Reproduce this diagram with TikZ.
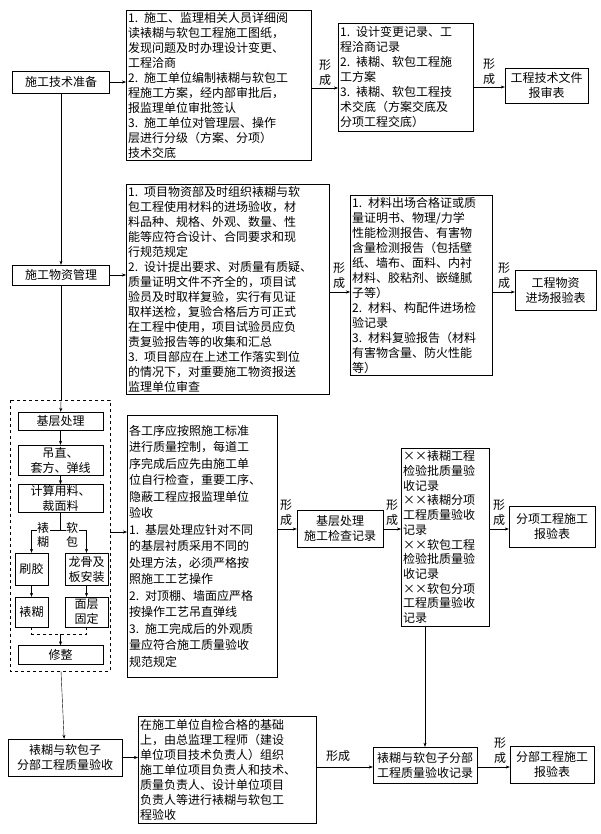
\documentclass[tikz,border=0pt]{standalone}
\usepackage{fontspec}
\newfontfamily\songti{Noto Sans CJK SC}
\usetikzlibrary{arrows.meta}
\usetikzlibrary{calc}

\begin{document}
\begin{tikzpicture}[x=1pt, y=-1pt]
        % ================= 样式定义 =================
        \tikzset{
            % 文字框:左上角定位,左对齐
            textbox/.style={draw=black, thin, inner sep=2pt, anchor=north west, align=left,
                font=\songti\fontsize{12}{15}\selectfont},
            % 小方框:居中
            smallbox/.style={draw=black, thin, inner sep=1pt, align=center,
                font=\songti\fontsize{12}{15}\selectfont},
            % 竖排 "形成"
            formlabel/.style={inner sep=0pt, align=center, anchor=south,
                font=\songti\fontsize{12}{15}\selectfont},
            flow/.style={thin, -{Stealth[length=4pt, width=3pt]}},
            dashbox/.style={draw=black, thin, dashed}
        }
        \useasboundingbox (0,0) rectangle (601,834);

        % ================= 第一行:施工技术准备 =================
        \node[smallbox, minimum width=97pt, minimum height=22pt] (prep) at (61,82) {施工技术准备};
        \node[textbox, text width=181pt, minimum height=150pt] (prepdesc) at (126,10) {1. 施工、监理相关人员详细阅\\读裱糊与软包工程施工图纸，\\发现问题及时办理设计变更、\\工程洽商\\2. 施工单位编制裱糊与软包工\\程施工方案，经内部审批后，\\报监理单位审批签认\\3. 施工单位对管理层、操作\\层进行分级（方案、分项）\\技术交底};
        \node[textbox, text width=131pt, minimum height=108pt] (preprec) at (338,23) {1. 设计变更记录、工\\程洽商记录\\2. 裱糊、软包工程施\\工方案\\3. 裱糊、软包工程技\\术交底（方案交底及\\分项工程交底）};
        \node[smallbox, minimum width=83pt, minimum height=35pt] (prepform) at (546.5,85.5) {工程技术文件\\报审表};

        \draw[flow] (prep) -- (prepdesc.west |- prep);
        \draw[flow] (prepdesc.east |- 0,88) -- (preprec.west |- 0,88);
        \draw[flow] (preprec.east |- 0,87) -- (prepform.west |- 0,87);
        \node[formlabel] at (325,86) {形\\成};
        \node[formlabel] at (489,85) {形\\成};

        % ================= 第二行:施工物资管理 =================
        \node[smallbox, minimum width=97pt, minimum height=20pt] (mat) at (61,275) {施工物资管理};
        \node[textbox, text width=199pt, minimum height=208pt] (matdesc) at (126,184) {1. 项目物资部及时组织裱糊与软\\包工程使用材料的进场验收，材\\料品种、规格、外观、数量、性\\能等应符合设计、合同要求和现\\行规范规定\\2. 设计提出要求、对质量有质疑、\\质量证明文件不齐全的，项目试\\验员及时取样复验，实行有见证\\取样送检，复验合格后方可正式\\在工程中使用，项目试验员应负\\责复验报告等的收集和汇总\\3. 项目部应在上述工作落实到位\\的情况下，对重要施工物资报送\\监理单位审查};
        \node[textbox, text width=138pt, minimum height=178pt] (matrec) at (350,195) {1. 材料出场合格证或质\\量证明书、物理/力学\\性能检测报告、有害物\\含量检测报告（包括壁\\纸、墙布、面料、内衬\\材料、胶粘剂、嵌缝腻\\子等）\\2. 材料、构配件进场检\\验记录\\3. 材料复验报告（材料\\有害物含量、防火性能\\等）};
        \node[smallbox, minimum width=81pt, minimum height=40pt] (matform) at (555.5,290) {工程物资\\进场报验表};

        \draw[flow] (prep) -- (mat);
        \draw[flow] (mat) -- (matdesc.west |- mat);
        \draw[flow] (matdesc.east |- 0,292) -- (matrec.west |- 0,292);
        \draw[flow] (matrec.east |- 0,292) -- (matform.west |- 0,292);
        \node[formlabel] at (339,289) {形\\成};
        \node[formlabel] at (504,289) {形\\成};

        % ================= 第三行:施工工序(虚线框) =================
        \draw[dashbox] (10,400) rectangle (110,671);
        \coordinate (dashtop) at (61,400);
        \coordinate (dashright) at (110,532);
        \coordinate (dashbottom) at (61,671);
        \node[smallbox, minimum width=85pt, minimum height=18pt] (base) at (60.5,421) {基层处理};
        \node[smallbox, minimum width=85pt, minimum height=30pt] (line) at (60.5,460) {吊直、\\套方、弹线};
        \node[smallbox, minimum width=85pt, minimum height=23pt] (cut) at (60.5,498.5) {计算用料、\\裁面料};
        \node[smallbox, minimum width=33pt, minimum height=32pt] (glue) at (31.5,569) {刷胶};
        \node[smallbox, minimum width=43pt, minimum height=32pt] (frame) at (86.5,569) {龙骨及\\板安装};
        \node[smallbox, minimum width=33pt, minimum height=30pt] (paste) at (31.5,612) {裱糊};
        \node[smallbox, minimum width=43pt, minimum height=30pt] (panel) at (86.5,612) {面层\\固定};
        \node[smallbox, minimum width=85pt, minimum height=19pt] (trim) at (60.5,655) {修整};

        \draw[thin] (mat) -- (dashtop);
        \draw[flow] (dashtop) -- (base);
        \draw[flow] (base) -- (line);
        \draw[flow] (line) -- (cut);
        \coordinate (split) at (60.5,530);
        \draw[thin] (cut) -- (split);
        \draw[thin] (glue.north |- split) -- (frame.north |- split);
        \draw[flow] (glue.north |- split) -- (glue);
        \draw[flow] (frame.north |- split) -- (frame);
        \node[inner sep=0.5pt, fill=white, align=center, font=\songti\fontsize{12}{14}\selectfont] at (43,535) {裱\\糊};
        \node[inner sep=0.5pt, fill=white, align=center, font=\songti\fontsize{12}{14}\selectfont] at (72,535) {软\\包};
        \draw[flow] (glue) -- (paste);
        \draw[flow] (frame) -- (panel);
        \coordinate (merge) at (60.5,634);
        \draw[thin, dashed] (paste.south) |- (merge) -| (panel.south);
        \draw[flow] (merge) -- (trim);

        \node[textbox, text width=146pt, minimum height=262pt,
            font=\songti\fontsize{12}{16.5}\selectfont] (procdesc) at (127,415) {各工序应按照施工标准\\进行质量控制，每道工\\序完成后应先由施工单\\位自行检查，重要工序、\\隐蔽工程应报监理单位\\验收\\1. 基层处理应针对不同\\的基层衬质采用不同的\\处理方法，必须严格按\\照施工工艺操作\\2. 对顶棚、墙面应严格\\按操作工艺吊直弹线\\3. 施工完成后的外观质\\量应符合施工质量验收\\规范规定};
        \node[smallbox, minimum width=86pt, minimum height=37pt] (baserec) at (340,528.5) {基层处理\\施工检查记录};
        \node[textbox, text width=84pt, minimum height=178pt,
            font=\songti\fontsize{12}{14.7}\selectfont] (subrec) at (401,448) {××裱糊工程\\检验批质量验\\收记录\\××裱糊分项\\工程质量验收\\记录\\××软包工程\\检验批质量验\\收记录\\××软包分项\\工程质量验收\\记录};
        \node[smallbox, minimum width=86pt, minimum height=41pt] (subform) at (552,526.5) {分项工程施工\\报验表};

        \draw[flow] (dashright) -- (dashright -| procdesc.west);
        \draw[flow] (procdesc.east |- 0,529) -- (baserec.west |- 0,529);
        \draw[flow] (baserec.east |- 0,529) -- (subrec.west |- 0,529);
        \draw[flow] (subrec.east |- 0,529) -- (subform.west |- 0,529);
        \node[formlabel] at (286,526) {形\\成};
        \node[formlabel] at (392,526) {形\\成};
        \node[formlabel] at (499,526) {形\\成};

        % ================= 第四行:子分部工程验收 =================
        \node[smallbox, minimum width=114pt, minimum height=37pt] (acc) at (65,757.5) {裱糊与软包子\\分部工程质量验收};
        \node[textbox, text width=174pt, minimum height=107pt] (accdesc) at (138,716) {在施工单位自检合格的基础\\上，由总监理工程师（建设\\单位项目技术负责人）组织\\施工单位项目负责人和技术、\\质量负责人、设计单位项目\\负责人等进行裱糊与软包工\\程验收};
        \node[smallbox, minimum width=104pt, minimum height=36pt] (accrec) at (425,765) {裱糊与软包子分部\\工程质量验收记录};
        \node[smallbox, minimum width=84pt, minimum height=37pt] (accform) at (552,764.5) {分部工程施工\\报验表};

        \draw[flow] (dashbottom) -- (acc);
        \draw[flow] (acc) -- (acc -| accdesc.west);
        \draw[flow] (accdesc.east |- 0,767) -- (accrec.west |- 0,767);
        \draw[flow] (subrec.south -| accrec.north) -- (accrec);
        \draw[flow] (accrec.east |- 0,767) -- (accform.west |- 0,767);
        \node[formlabel, font=\songti\fontsize{12}{15}\selectfont] at (338,762) {形成};
        \node[formlabel] at (500,764) {形\\成};

    \end{tikzpicture}
\end{document}
